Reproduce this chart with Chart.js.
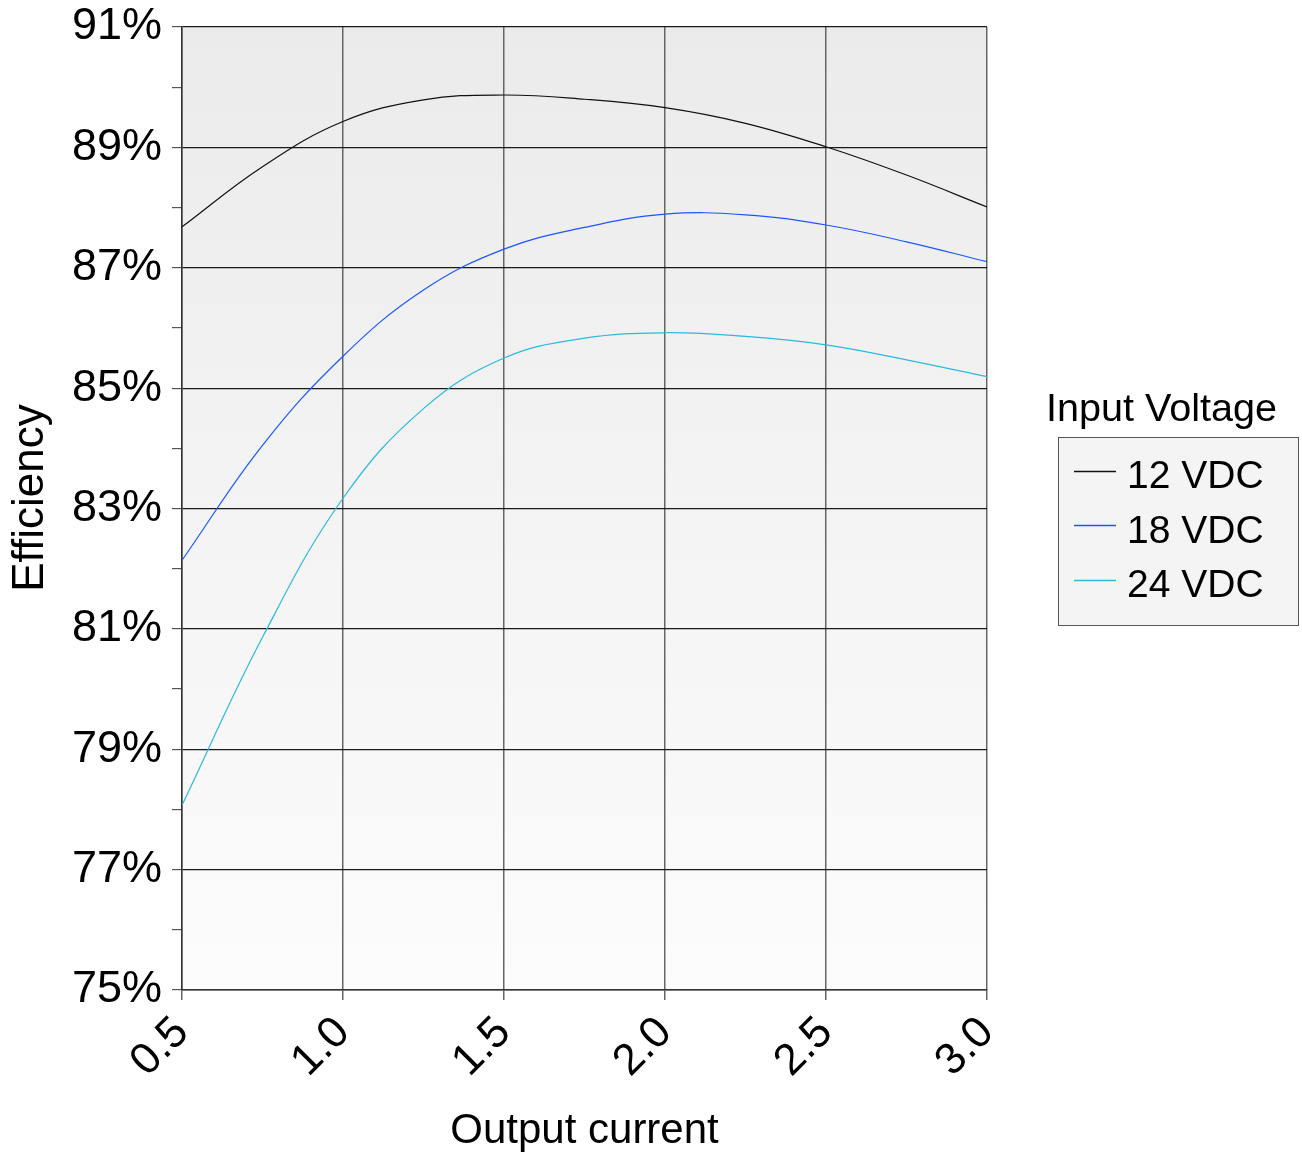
<!DOCTYPE html>
<html><head><meta charset="utf-8">
<script src="https://cdn.jsdelivr.net/npm/chart.js@4"></script>
<style>html,body{margin:0;padding:0;background:#fff}#wrap{width:1302px;height:1157px}</style>
</head><body><div id="wrap"><canvas id="c"></canvas></div>
<script>
const currents = [0.5, 0.75, 1.0, 1.25, 1.5, 1.75, 2.0, 2.25, 2.5, 2.75, 3.0];
const eff12 = [87.68, 88.68, 89.43, 89.79, 89.87, 89.80, 89.66, 89.40, 89.01, 88.54, 88.01];
const eff18 = [82.14, 84.05, 85.53, 86.63, 87.31, 87.67, 87.89, 87.88, 87.71, 87.43, 87.10];
const eff24 = [78.07, 80.86, 83.17, 84.66, 85.50, 85.83, 85.92, 85.86, 85.72, 85.47, 85.19];
const seriesLabels = ['12 VDC', '18 VDC', '24 VDC'];
const seriesColors = ['#111111', '#1d56ff', '#2bb9dd'];
const legendTitle = 'Input Voltage';
const xTitle = 'Output current';
const yTitle = 'Efficiency';

const FONT = 'Liberation Sans, Arial, sans-serif';
const toPts = arr => arr.map((v, i) => ({x: currents[i], y: v}));

const bgPlugin = {
  id: 'bg',
  beforeDraw(chart) {
    const {ctx, chartArea: a} = chart;
    const g = ctx.createLinearGradient(0, a.top, 0, a.bottom);
    g.addColorStop(0, '#ebebeb');
    g.addColorStop(1, '#fcfcfc');
    ctx.save();
    ctx.fillStyle = g;
    ctx.fillRect(a.left, a.top, a.right - a.left, a.bottom - a.top);
    ctx.restore();
  }
};

const legendPlugin = {
  id: 'customLegend',
  afterDraw(chart) {
    const ctx = chart.ctx;
    ctx.save();
    ctx.font = '44px ' + FONT;
    ctx.fillStyle = '#000';
    ctx.textAlign = 'center';
    ctx.textBaseline = 'middle';
    ctx.translate(31, 498);
    ctx.rotate(-Math.PI / 2);
    ctx.fillText(yTitle, 0, 0);
    ctx.restore();

    ctx.save();
    ctx.font = '39.6px ' + FONT;
    ctx.fillStyle = '#000';
    ctx.textBaseline = 'middle';
    ctx.textAlign = 'left';
    ctx.fillText(legendTitle, 1046, 410);
    ctx.font = '39px ' + FONT;
    ctx.fillStyle = '#f4f4f4';
    ctx.fillRect(1058.5, 437.5, 240, 188);
    ctx.strokeStyle = '#555';
    ctx.lineWidth = 1;
    ctx.strokeRect(1058.5, 437.5, 240, 188);
    seriesLabels.forEach((lab, i) => {
      const ly = 470.5 + i * 54.5;
      ctx.strokeStyle = seriesColors[i];
      ctx.lineWidth = 1.3;
      ctx.beginPath();
      ctx.moveTo(1074, Math.round(ly) + 0.5);
      ctx.lineTo(1116, Math.round(ly) + 0.5);
      ctx.stroke();
      ctx.fillStyle = '#000';
      ctx.fillText(lab, 1127, ly + 7);
    });
    ctx.restore();
  }
};

new Chart(document.getElementById('c'), {
  type: 'scatter',
  data: {
    datasets: [eff12, eff18, eff24].map((d, i) => ({
      label: seriesLabels[i],
      data: toPts(d),
      showLine: true,
      borderColor: seriesColors[i],
      backgroundColor: seriesColors[i],
      borderWidth: 1.2,
      pointRadius: 0,
      tension: 0.4
    }))
  },
  options: {
    responsive: true,
    maintainAspectRatio: false,
    animation: false,
    layout: {padding: {top: 27, right: 315, left: 0, bottom: 0}},
    plugins: {legend: {display: false}, tooltip: {enabled: false}},
    scales: {
      x: {
        type: 'linear', min: 0.5, max: 3.0,
        afterFit(s) { s.height = 167; s.paddingLeft = 0; s.paddingRight = 0; },
        ticks: {
          stepSize: 0.5,
          maxRotation: 45, minRotation: 45,
          color: '#000',
          font: {family: FONT, size: 44, lineHeight: 1.0},
          padding: 10,
          callback: v => Number(v).toFixed(1)
        },
        grid: {color: '#666666', lineWidth: 1.5, tickLength: 10, tickColor: '#666666'},
        border: {color: '#333', width: 1.5},
        title: {display: true, text: xTitle, color: '#000', font: {family: FONT, size: 42}, padding: {top: 0, bottom: 0}}
      },
      y: {
        type: 'linear', min: 75, max: 91,
        afterFit(s) { s.width = 182; s.paddingTop = 0; s.paddingBottom = 0; },
        ticks: {
          stepSize: 1,
          color: '#000',
          font: {family: FONT, size: 45, lineHeight: 1.0},
          padding: 10,
          callback: v => (Math.round(v) % 2 === 1 ? Math.round(v) + '%' : '')
        },
        grid: {
          color: c => (Math.round(c.tick.value) % 2 === 1 ? '#1a1a1a' : 'rgba(0,0,0,0)'),
          lineWidth: 1.2,
          tickLength: 10,
          tickColor: '#555'
        },
        border: {color: '#333', width: 1.5},
        title: {display: false, text: yTitle}
      }
    }
  },
  plugins: [bgPlugin, legendPlugin]
});
</script></body></html>
